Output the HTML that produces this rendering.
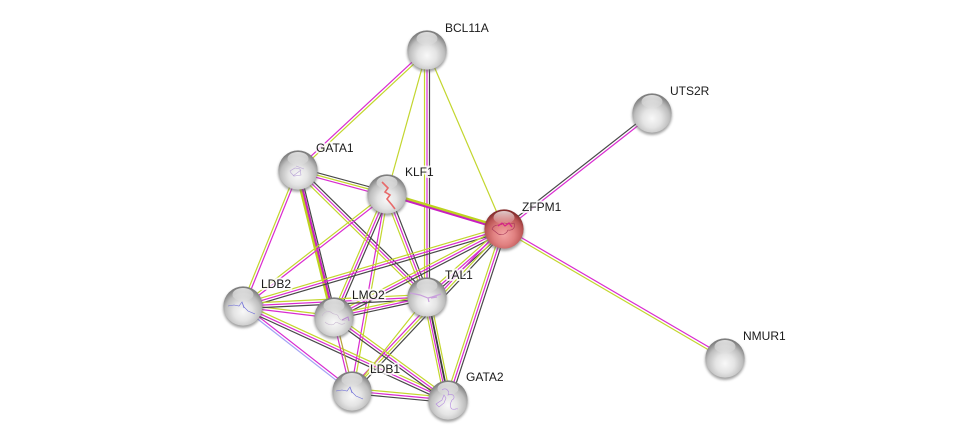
<!DOCTYPE html>
<html><head><meta charset="utf-8"><style>
html,body{margin:0;padding:0;background:#fff}
svg{display:block}
text{font:12px "Liberation Sans",sans-serif;fill:#1a1a1a;paint-order:stroke;stroke:rgba(255,255,255,.8);stroke-width:4px;stroke-linejoin:round}
#e path{fill:none;stroke-width:1.2}
#e .g{stroke:#c3d62e}
#e .G{stroke:#bdd21f;stroke-width:2.6}
#e .m{stroke:#d92bd0}
#e .M{stroke:#c81fc0;stroke-width:2}
#e .k{stroke:#484848}
#e .K{stroke:#3c3c3c;stroke-width:1.8}
#e .b{stroke:#a4a4f4}
#e .o{stroke:#b7a23c}
</style></head><body>
<svg width="975" height="444" viewBox="0 0 975 444" xmlns="http://www.w3.org/2000/svg">
<defs>
<radialGradient id="b" cx=".5" cy=".64" r=".6"><stop offset="0" stop-color="#f8f8f8"/><stop offset=".4" stop-color="#e4e4e4"/><stop offset=".75" stop-color="#bdbdbd"/><stop offset="1" stop-color="#7e7e7e"/></radialGradient>
<radialGradient id="r" cx=".5" cy=".64" r=".6"><stop offset="0" stop-color="#f3a5a5"/><stop offset=".45" stop-color="#e08080"/><stop offset=".8" stop-color="#bb5555"/><stop offset="1" stop-color="#842c2c"/></radialGradient>
<linearGradient id="h" x1="0" y1="0" x2="0" y2="1"><stop offset="0" stop-color="#fff" stop-opacity=".75"/><stop offset="1" stop-color="#fff" stop-opacity=".05"/></linearGradient>
<filter id="f" x="-30%" y="-30%" width="160%" height="160%"><feGaussianBlur stdDeviation="1.3"/></filter>
<g id="n"><ellipse cx="0" cy="2" rx="20" ry="20" fill="#666" opacity=".6" filter="url(#f)"/><circle r="19.6" fill="url(#b)"/><ellipse cx="0" cy="-11.5" rx="10.5" ry="6.5" fill="url(#h)"/></g>
<g id="m"><ellipse cx="0" cy="2" rx="20" ry="20" fill="#666" opacity=".6" filter="url(#f)"/><circle r="19.6" fill="url(#r)"/><ellipse cx="0" cy="-11.5" rx="10.5" ry="6.5" fill="url(#h)"/></g>
</defs>
<g id="e">
<path class="m" transform="translate(-.88 -.95)" d="M427 50L298 170"/>
<path class="g" transform="translate(.88 .95)" d="M427 50L298 170"/>
<path class="g" d="M427 50L387 194"/>
<path class="g" transform="translate(-2.5 0)" d="M427 50L427 297"/>
<path class="m" d="M427 50L427 297"/>
<path class="k" transform="translate(2.5 0)" d="M427 50L427 297"/>
<path class="g" d="M427 50L504 229"/>
<path class="k" transform="translate(-.8 -1.01)" d="M652 113L504 229"/>
<path class="m" transform="translate(.8 1.01)" d="M652 113L504 229"/>
<path class="m" transform="translate(.65 -1.11)" d="M504 229L725 358"/>
<path class="g" transform="translate(-.65 1.11)" d="M504 229L725 358"/>
<path class="k" transform="translate(.62 -2.3)" d="M298 170L387 194"/>
<path class="g" d="M298 170L387 194"/>
<path class="m" transform="translate(-.62 2.3)" d="M298 170L387 194"/>
<path class="G" transform="translate(.32 -1.05)" d="M387 194L504 229"/>
<path class="M" transform="translate(-.27 .91)" d="M387 194L504 229"/>
<path class="g" transform="translate(-1.19 -.49)" d="M298 170L243 306"/>
<path class="m" transform="translate(1.19 .49)" d="M298 170L243 306"/>
<path class="G" transform="translate(-1.95 .48)" d="M298 170L334 317"/>
<path class="M" d="M298 170L334 317"/>
<path class="k" transform="translate(1.85 -.45)" d="M298 170L334 317"/>
<path class="k" transform="translate(1.8 -1.82)" d="M298 170L427 297"/>
<path class="m" d="M298 170L427 297"/>
<path class="g" transform="translate(-1.8 1.82)" d="M298 170L427 297"/>
<path class="g" transform="translate(-.78 -1.01)" d="M387 194L243 306"/>
<path class="m" transform="translate(.78 1.01)" d="M387 194L243 306"/>
<path class="g" transform="translate(-2.36 -1.01)" d="M387 194L334 317"/>
<path class="m" d="M387 194L334 317"/>
<path class="k" transform="translate(2.36 1.01)" d="M387 194L334 317"/>
<path class="m" transform="translate(-1.27 -.23)" d="M387 194L352 391"/>
<path class="g" transform="translate(1.27 .23)" d="M387 194L352 391"/>
<path class="g" transform="translate(-2.39 .93)" d="M387 194L427 297"/>
<path class="m" d="M387 194L427 297"/>
<path class="k" transform="translate(2.39 -.93)" d="M387 194L427 297"/>
<path class="g" transform="translate(-.73 -2.46)" d="M504 229L243 306"/>
<path class="m" d="M504 229L243 306"/>
<path class="k" transform="translate(.73 2.46)" d="M504 229L243 306"/>
<path class="g" transform="translate(-1.17 -2.28)" d="M504 229L334 317"/>
<path class="m" d="M504 229L334 317"/>
<path class="k" transform="translate(1.17 2.28)" d="M504 229L334 317"/>
<path class="g" transform="translate(-1.7 -1.92)" d="M504 229L427 297"/>
<path class="m" d="M504 229L427 297"/>
<path class="k" transform="translate(1.7 1.92)" d="M504 229L427 297"/>
<path class="m" transform="translate(-1.88 -1.76)" d="M504 229L352 391"/>
<path class="g" d="M504 229L352 391"/>
<path class="k" transform="translate(1.88 1.76)" d="M504 229L352 391"/>
<path class="g" transform="translate(-2.44 -.8)" d="M504 229L448 400"/>
<path class="m" d="M504 229L448 400"/>
<path class="k" transform="translate(2.44 .8)" d="M504 229L448 400"/>
<path class="g" transform="translate(.15 -1.27)" d="M243 306L334 317"/>
<path class="m" transform="translate(-.15 1.27)" d="M243 306L334 317"/>
<path class="g" transform="translate(.13 -2.56)" d="M243 306L427 297"/>
<path class="m" d="M243 306L427 297"/>
<path class="k" transform="translate(-.13 2.56)" d="M243 306L427 297"/>
<path class="m" transform="translate(.78 -1.01)" d="M243 306L352 391"/>
<path class="b" transform="translate(-.78 1.01)" d="M243 306L352 391"/>
<path class="g" transform="translate(1.07 -2.34)" d="M243 306L448 400"/>
<path class="m" d="M243 306L448 400"/>
<path class="k" transform="translate(-1.07 2.34)" d="M243 306L448 400"/>
<path class="g" transform="translate(.54 -2.51)" d="M334 317L427 297"/>
<path class="m" d="M334 317L427 297"/>
<path class="k" transform="translate(-.54 2.51)" d="M334 317L427 297"/>
<path class="m" transform="translate(-1.24 .3)" d="M334 317L352 391"/>
<path class="o" transform="translate(1.24 -.3)" d="M334 317L352 391"/>
<path class="g" transform="translate(1.51 -2.08)" d="M334 317L448 400"/>
<path class="m" d="M334 317L448 400"/>
<path class="k" transform="translate(-1.51 2.08)" d="M334 317L448 400"/>
<path class="g" d="M427 297L352 391"/>
<path class="g" transform="translate(-3.4 .7)" d="M427 297L448 400"/>
<path class="m" transform="translate(-1.4 .28)" d="M427 297L448 400"/>
<path class="K" transform="translate(.7 -.14)" d="M427 297L448 400"/>
<path class="g" transform="translate(3 -.6)" d="M427 297L448 400"/>
<path class="g" transform="translate(.24 -2.55)" d="M352 391L448 400"/>
<path class="m" d="M352 391L448 400"/>
<path class="k" transform="translate(-.24 2.55)" d="M352 391L448 400"/>
</g>
<use href="#n" x="427" y="50"/>
<use href="#n" x="652" y="113"/>
<use href="#n" x="298" y="170"/>
<use href="#n" x="387" y="194"/>
<use href="#m" x="504" y="229"/>
<use href="#n" x="243" y="306"/>
<use href="#n" x="334" y="317"/>
<use href="#n" x="427" y="297"/>
<use href="#n" x="352" y="391"/>
<use href="#n" x="448" y="400"/>
<use href="#n" x="725" y="358"/>
<g fill="none" stroke-width=".6">
<path d="M290 171l5-3 5 1 1 6-7 1-3-3zM296 166l8 3M293 176l8-6" stroke="#b9a4d6"/>
<path d="M382 182l6 6-3 4 5 3-3 4 5 6 3 4" stroke="#e86a6a" stroke-width="1.6"/>
<path d="M492 229c3-6 8-3 10-5 3-3 6 2 12-1 2 5-2 8-6 7-2 5-8 6-11 3z" stroke="#a83a5a"/>
<path d="M498 226l4-3 3 3 4-3 3 4" stroke="#d8208a" stroke-width="1.2"/>
<path d="M228 306l6-1 5 1 3-4 2 5 4 4 7 3M242 302l2 6" stroke="#6a6ad8"/>
<path d="M322 316c3-6 8-5 10-3s6 0 7 5c3 4 7 2 9 1M325 322c3 3 8 4 10 1s5 4 10 0" stroke="#c8b8d0"/>
<path d="M342 320l6-3 1 4" stroke="#b98ad0" stroke-width="1"/>
<path d="M410 293l10 2 8 3 4-1 9-3M428 298l1 4M431 298l6-1" stroke="#c9a0dc" stroke-width="1.2"/>
<path d="M336 391l6-1 5 1 3-4 2 5 4 4 7 3M350 387l2 6" stroke="#6a6ad8"/>
<path d="M442 390c4-3 8 1 6 5 6-2 8 3 4 5-2 3-2 8 0 9 4 1 4-1 6 0M436 404l6-4 2-5 2 3-2 5-5 4z" stroke="#b48adf"/>
</g>
<text x="445" y="32">BCL11A</text>
<text x="670" y="95">UTS2R</text>
<text x="316" y="152">GATA1</text>
<text x="405" y="176">KLF1</text>
<text x="522" y="211">ZFPM1</text>
<text x="261" y="288">LDB2</text>
<text x="352" y="299">LMO2</text>
<text x="445" y="279">TAL1</text>
<text x="370" y="373">LDB1</text>
<text x="466" y="381">GATA2</text>
<text x="743" y="340">NMUR1</text>
</svg>
</body></html>
